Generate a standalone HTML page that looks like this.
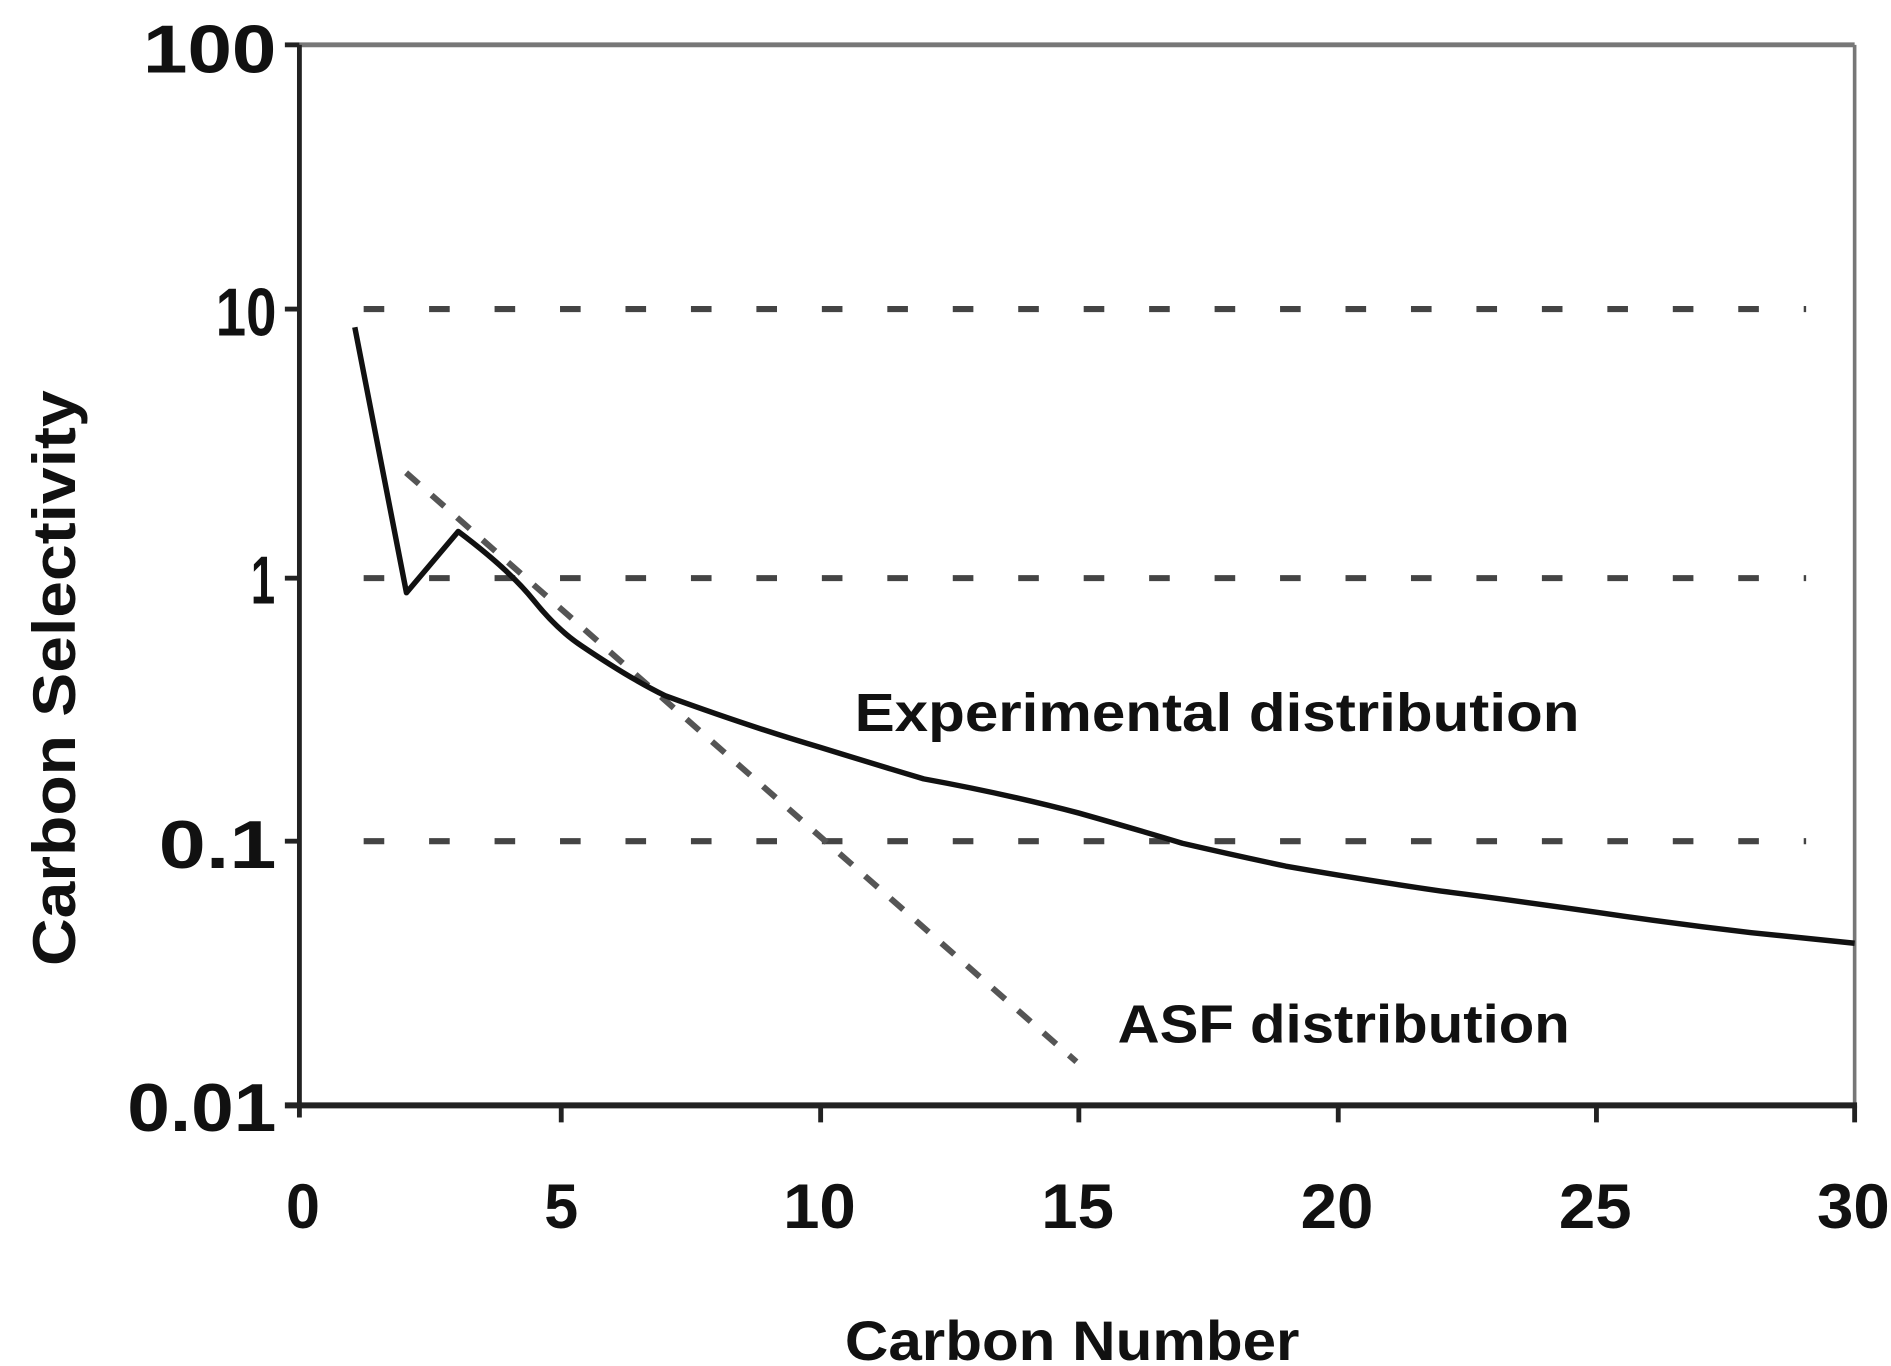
<!DOCTYPE html>
<html><head><meta charset="utf-8"><style>
html,body{margin:0;padding:0;background:#fff;}
svg{display:block;}
text{font-family:"Liberation Sans Narrow","Liberation Sans",sans-serif;font-weight:bold;fill:#111;}
</style></head><body>
<svg width="1891" height="1366" viewBox="0 0 1560 1127" preserveAspectRatio="none" xmlns="http://www.w3.org/2000/svg">
<rect width="1560" height="1127" fill="#fff"/>
<line x1="247" y1="37" x2="1530" y2="37" stroke="#777" stroke-width="4"/>
<line x1="1530" y1="37" x2="1530" y2="912" stroke="#777" stroke-width="3"/>
<g stroke="#444" stroke-width="5" stroke-dasharray="17 37">
<line x1="300" y1="255" x2="1490" y2="255"/>
<line x1="300" y1="477" x2="1490" y2="477"/>
<line x1="300" y1="694" x2="1490" y2="694"/>
</g>
<line x1="247" y1="37" x2="247" y2="922" stroke="#222" stroke-width="4"/>
<line x1="235" y1="912" x2="1532" y2="912" stroke="#222" stroke-width="5"/>
<g stroke="#222" stroke-width="4">
<line x1="235" y1="37" x2="247" y2="37"/><line x1="235" y1="255" x2="247" y2="255"/>
<line x1="235" y1="477" x2="247" y2="477"/><line x1="235" y1="694" x2="247" y2="694"/>
<line x1="463" y1="912" x2="463" y2="926"/><line x1="677" y1="912" x2="677" y2="926"/>
<line x1="890" y1="912" x2="890" y2="926"/><line x1="1104" y1="912" x2="1104" y2="926"/>
<line x1="1317" y1="912" x2="1317" y2="926"/><line x1="1530" y1="912" x2="1530" y2="926"/>
</g>
<g font-size="56" lengthAdjust="spacingAndGlyphs">
<text x="118" y="60" textLength="110" lengthAdjust="spacingAndGlyphs">100</text>
<text x="178" y="277" textLength="50" lengthAdjust="spacingAndGlyphs">10</text>
<text x="207" y="498" textLength="20" lengthAdjust="spacingAndGlyphs">1</text>
<text x="131" y="716" textLength="97" lengthAdjust="spacingAndGlyphs">0.1</text>
<text x="105" y="933" textLength="123" lengthAdjust="spacingAndGlyphs">0.01</text>
</g>
<g font-size="52">
<text x="236" y="1013" textLength="28" lengthAdjust="spacingAndGlyphs">0</text>
<text x="449" y="1013" textLength="28" lengthAdjust="spacingAndGlyphs">5</text>
<text x="646" y="1013" textLength="60" lengthAdjust="spacingAndGlyphs">10</text>
<text x="859" y="1013" textLength="60" lengthAdjust="spacingAndGlyphs">15</text>
<text x="1073" y="1013" textLength="60" lengthAdjust="spacingAndGlyphs">20</text>
<text x="1286" y="1013" textLength="60" lengthAdjust="spacingAndGlyphs">25</text>
<text x="1499" y="1013" textLength="60" lengthAdjust="spacingAndGlyphs">30</text>
</g>
<text x="697" y="1122" font-size="46" textLength="375" lengthAdjust="spacingAndGlyphs">Carbon Number</text>
<text transform="translate(62,797) rotate(-90)" font-size="50" textLength="475" lengthAdjust="spacingAndGlyphs">Carbon Selectivity</text>
<text x="705" y="603" font-size="44" textLength="598" lengthAdjust="spacingAndGlyphs">Experimental distribution</text>
<text x="922" y="860" font-size="44" textLength="373" lengthAdjust="spacingAndGlyphs">ASF distribution</text>
<line x1="335" y1="390" x2="888" y2="876" stroke="#555" stroke-width="5" stroke-dasharray="14 14"/>
<path fill="none" stroke="#111" stroke-width="4.5" stroke-linejoin="round"
d="M292.7,270 L335.3,489 L378,438.5 Q420,470 440,495 Q460,520 480,533 Q520,560 548.7,574 Q620,600 676.7,616.6 Q720,630 762,642.6 Q830,655 890,670.8 Q940,685 975.3,695.7 Q1020,706 1060.7,714.6 Q1120,725 1188.7,735.2 Q1250,743 1316.7,752.6 Q1380,762 1444.7,769.5 L1530,778.2"/>
</svg>
</body></html>
